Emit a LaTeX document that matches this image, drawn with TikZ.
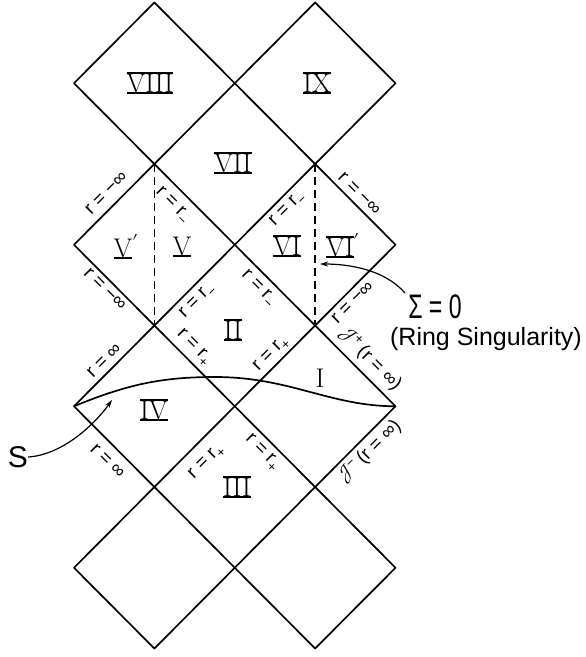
\documentclass[tikz,border=0pt]{standalone}
\usepackage{fontspec}
\usepackage{unicode-math}
\setsansfont{Liberation Sans}
\usetikzlibrary{arrows.meta}
\newsavebox\rnbox
\newcommand\rnboth[1]{\sbox\rnbox{#1}\vbox{\hrule width\wd\rnbox height 2pt\copy\rnbox\hrule width\wd\rnbox height 2pt}}
\newcommand\rnlow[1]{\sbox\rnbox{#1}\vbox{\copy\rnbox\hrule width\wd\rnbox height 2pt}}
\newcommand\scrJ{{\fontsize{21}{21}\selectfont$\mathscr{J}$}}
\begin{document}
\begin{tikzpicture}[x=1pt,y=-1pt,
  edge/.style={line width=1.7pt,line cap=round,line join=round},
  dashline/.style={line width=1.4pt,dash pattern=on 8pt off 5pt},
  rl/.style={font=\fontsize{19}{19}\selectfont\sffamily,inner sep=0pt,sloped},
  rn/.style={font=\fontsize{27}{27}\selectfont,inner sep=0pt},
  arr/.style={line width=1.2pt,-{Stealth[length=8pt,width=5pt]}}]
\useasboundingbox (0,0) rectangle (586,657);
\foreach \i in {0,...,4}{\foreach \j in {0,...,8}{
  \coordinate (v\i\j) at ({74+80.375*\i},{2.5+80.75*\j});}}
% diamonds
\draw[edge] (v10)--(v21)--(v12)--(v01)--cycle;
\draw[edge] (v30)--(v41)--(v32)--(v21)--cycle;
\draw[edge] (v12)--(v23)--(v14)--(v03)--cycle;
\draw[edge] (v32)--(v43)--(v34)--(v23)--cycle;
\draw[edge] (v14)--(v25)--(v16)--(v05)--cycle;
\draw[edge] (v34)--(v45)--(v36)--(v25)--cycle;
\draw[edge] (v16)--(v27)--(v18)--(v07)--cycle;
\draw[edge] (v36)--(v47)--(v38)--(v27)--cycle;
% dashed lines
\draw[dashline] (v12)--(v14);
\draw[dashline] (v32)--(v34);
% surface S
\coordinate (sp) at (215,377);
\draw[edge] (v05) .. controls (126,385) and (160,377) .. (sp) .. controls (290,377) and (330,406.25) .. (v45);
% region labels
\node[rn] (n8) at (150,83) {\rnboth{VIII}};
\node[rn] (n9) at (317,83) {\rnboth{IX}};
\node[rn] (n7) at (233,163) {\rnboth{VII}};
\node[rn] (n5p) at (123,247) {\rnlow{V}\rlap{\raisebox{1pt}{$^{\prime}$}}};
\node[rn] (n5) at (182,247) {\rnlow{V}};
\node[rn] (n6) at (287,246) {\rnboth{VI}};
\node[rn] (n6p) at (340,246) {\rnboth{VI}\rlap{\raisebox{1pt}{$^{\prime}$}}};
\node[rn] (n2) at (233,330) {\rnboth{II}};
\node[rn] (n1) at (320,378) {I};
\node[rn] (n4) at (154,410) {\rnboth{IV}};
\node[rn] (n3) at (237,487) {\rnboth{III}};
% line labels
\path (v03)--(v12) node[rl,pos=.52,above=8pt] (l1) {r = −∞};
\path (v12)--(v23) node[rl,pos=.37,below=9pt] (l2) {r = r\textsubscript{−}};
\path (v03)--(v14) node[rl,pos=.47,below=4pt] (l3) {r = −∞};
\path (v14)--(v23) node[rl,pos=.42,below=6pt] (l4) {r = r\textsubscript{−}};
\path (v23)--(v32) node[rl,pos=.55,below=5pt] (l5) {r = r\textsubscript{−}};
\path (v32)--(v43) node[rl,pos=.46,above=5pt] (l6) {r = −∞};
\path (v23)--(v34) node[rl,pos=.42,below=7pt] (l7) {r = r\textsubscript{−}};
\path (v34)--(v43) node[rl,pos=.375,below=5pt] (l8) {r = −∞};
\path (v05)--(v14) node[rl,pos=.47,above=5.5pt] (l9) {r = ∞};
\path (v14)--(v25) node[rl,pos=.38,above=4.5pt] (l10) {r = r\textsubscript{+}};
\path (v25)--(v34) node[rl,pos=.55,above=2.5pt] (l11) {r = r\textsubscript{+}};
\path (v34)--(v45) node[rl,pos=.55,above=6pt] (l12) {\scrJ\textsuperscript{+}\,(r = ∞)};
\path (v05)--(v16) node[rl,pos=.55,below=9.5pt] (l13) {r = ∞};
\path (v16)--(v25) node[rl,pos=.48,below=12pt] (l14) {r = r\textsubscript{+}};
\path (v25)--(v36) node[rl,pos=.46,below=6pt] (l15) {r = r\textsubscript{+}};
\path (v36)--(v45) node[rl,pos=.56,below=4pt] (l16) {\scrJ\textsuperscript{−}\,(r = ∞)};
% S and Sigma
\node[font=\fontsize{30}{30}\selectfont\sffamily,inner sep=0pt] (S) at (18,457) {S};
\coordinate (stip) at (112,400);
\draw[arr] (S.east) .. controls (60,455) and (92,428) .. (stip);
\node[inner sep=0pt] (sig) at (435,307) {\scalebox{0.68}[1]{\fontsize{34}{34}\selectfont\sffamily Σ = 0}};
\node[font=\fontsize{25}{25}\selectfont\sffamily,inner sep=0pt] (ring) at (486,339) {(Ring Singularity)};
\coordinate (sigtip) at (320,264);
\coordinate (sigstart) at (405,293);
\draw[arr] (sigstart) .. controls (385,270) and (350,264) .. (sigtip);
\end{tikzpicture}
\end{document}
